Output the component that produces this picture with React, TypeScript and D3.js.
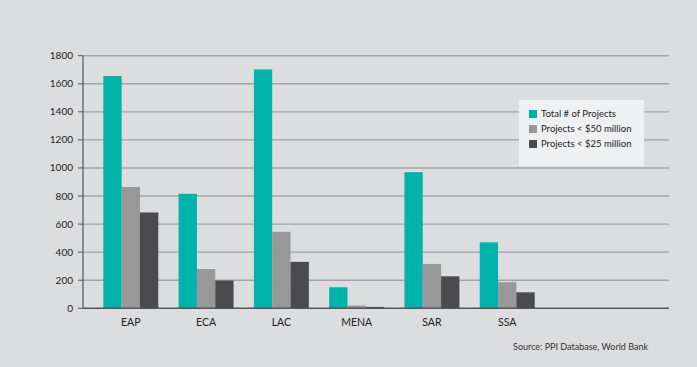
import React from "react";
import * as d3 from "d3";

const categories = ["EAP", "ECA", "LAC", "MENA", "SAR", "SSA"];
const seriesNames = ["Total # of Projects", "Projects < $50 million", "Projects < $25 million"];
const totalProjects = [1655, 816, 1702, 150, 970, 470];
const under50 = [864, 280, 545, 20, 316, 186];
const under25 = [683, 198, 331, 10, 228, 114];
const yTicks = [0, 200, 400, 600, 800, 1000, 1200, 1400, 1600, 1800];
const sourceText = "Source: PPI Database, World Bank";

const colors = ["#00b3aa", "#989899", "#4b4b4d"];
const FONT = "Lato, 'Open Sans', sans-serif";

export default function App() {
  const W = 697, H = 367;
  const left = 83, right = 669;
  const y = d3.scaleLinear().domain([0, 1800]).range([308.3, 55.7]);
  const x0 = d3.scaleBand<string>().domain(categories).range([83, 555]).paddingInner(0.27).paddingOuter(0.27);
  const x1 = d3.scaleBand<number>().domain([0, 1, 2]).range([0, x0.bandwidth()]);
  const series = [totalProjects, under50, under25];

  return (
    <svg width={W} height={H} style={{ position: "absolute", left: 0, top: 0, background: "#dcdddf" }}>
      <rect x={0} y={0} width={W} height={H} fill="#dcdddf" />
      {yTicks.filter(t => t > 0).map(t => (
        <line key={"g" + t} x1={left} x2={right} y1={y(t)} y2={y(t)} stroke="#a2a3a5" strokeWidth={1.4} />
      ))}
      {categories.map((c, i) =>
        series.map((s, j) => (
          <rect key={c + j} x={(x0(c) as number) + (x1(j) as number)} y={y(s[i])} width={x1.bandwidth()}
            height={y(0) - y(s[i])} fill={colors[j]} />
        ))
      )}
      <line x1={left} x2={left} y1={y(1800)} y2={y(0)} stroke="#555" strokeWidth={1.2} />
      <line x1={left} x2={right} y1={y(0)} y2={y(0)} stroke="#555" strokeWidth={1.4} />
      {yTicks.map(t => (
        <g key={"t" + t}>
          <line x1={left - 5} x2={left} y1={y(t)} y2={y(t)} stroke="#555" strokeWidth={1} />
          <text x={left - 10} y={y(t)} dy="0.35em" textAnchor="end" fontSize={10} fill="#222" fontFamily={FONT}>{t}</text>
        </g>
      ))}
      {categories.map(c => (
        <text key={"l" + c} x={(x0(c) as number) + x0.bandwidth() / 2} y={326} textAnchor="middle" fontSize={10.5} fill="#222" fontFamily={FONT}>{c}</text>
      ))}
      <rect x={519} y={100} width={125} height={66} fill="#eff0f1" />
      {seriesNames.map((n, j) => (
        <g key={"lg" + j}>
          <rect x={529} y={110 + j * 15} width={8} height={8} fill={colors[j]} />
          <text x={541} y={114 + j * 15} dy="0.35em" fontSize={9.5} fill="#222" fontFamily={FONT}>{n}</text>
        </g>
      ))}
      <text x={648} y={350} textAnchor="end" fontSize={9} fill="#333" fontFamily={FONT}>{sourceText}</text>
    </svg>
  );
}
